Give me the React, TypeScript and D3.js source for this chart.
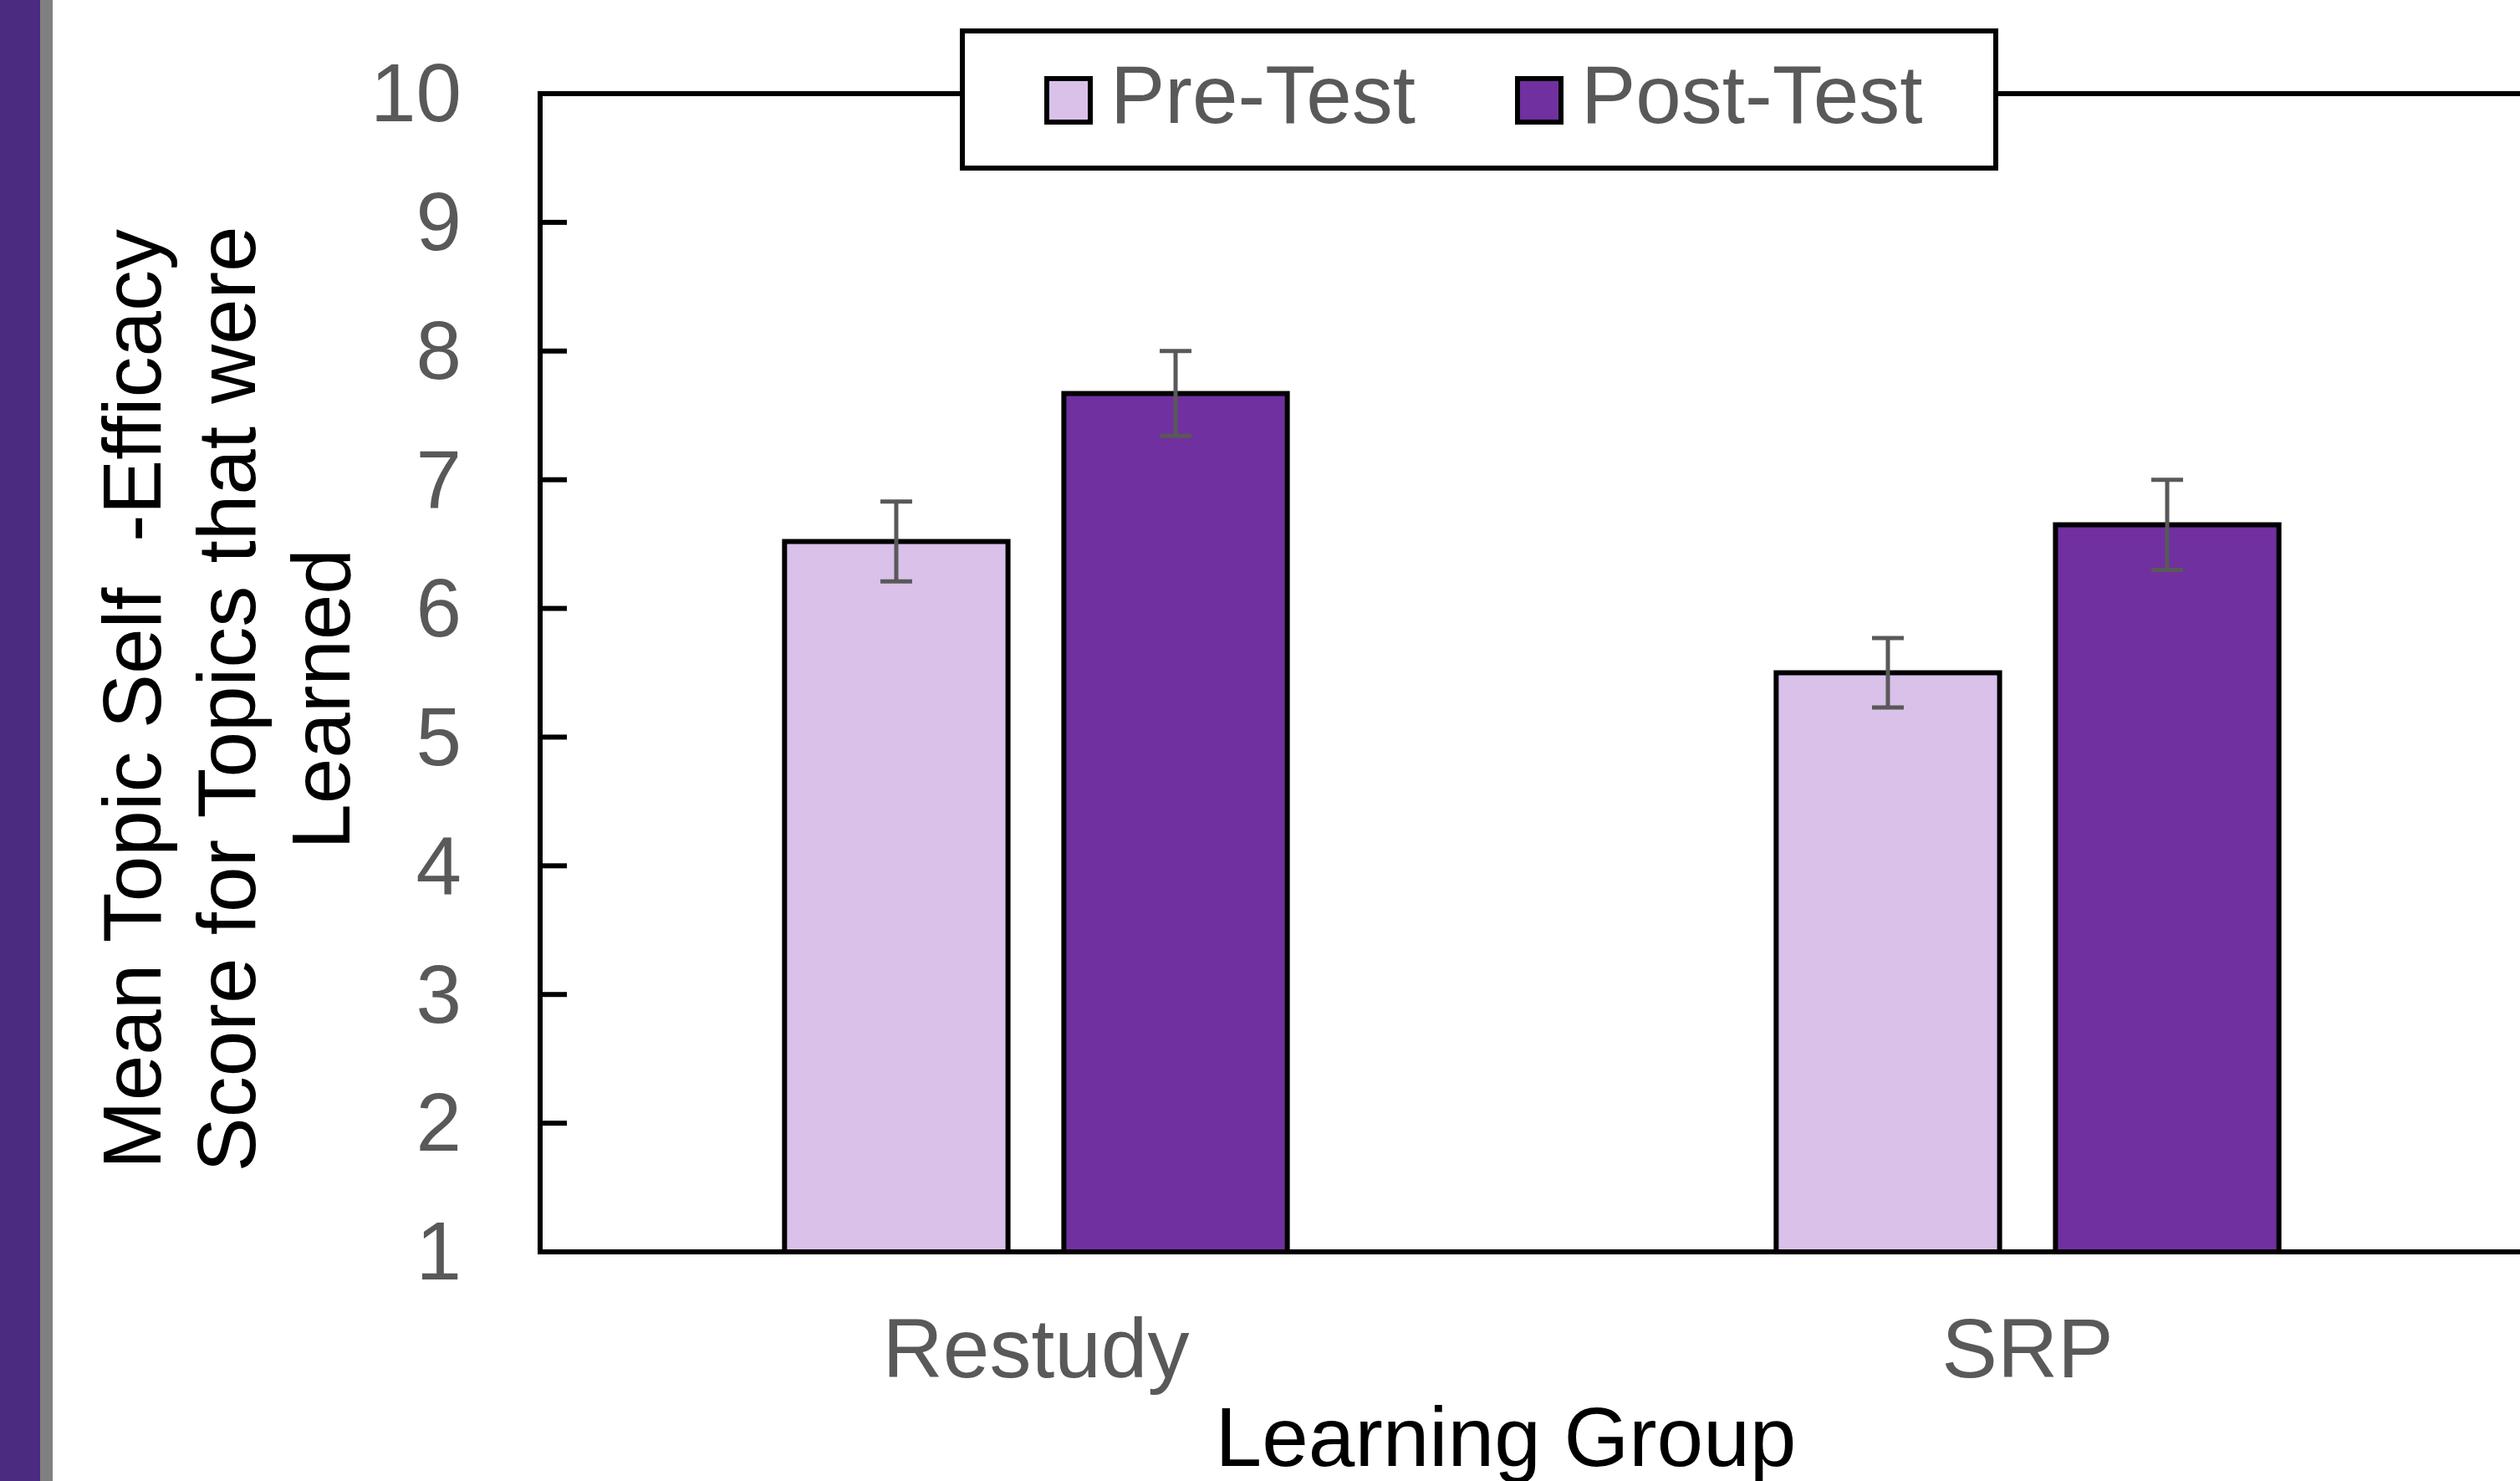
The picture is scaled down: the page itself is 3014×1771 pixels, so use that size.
import React, { useEffect, useRef } from 'react'
import * as d3 from 'd3'

// --- data ---
const groups = ['Restudy', 'SRP']
const seriesNames = ['Pre-Test', 'Post-Test']
const preMeans = [6.52, 5.5]
const postMeans = [7.67, 6.65]
const preErr = [0.31, 0.27]
const postErr = [0.33, 0.35]
const yTicks = [1, 2, 3, 4, 5, 6, 7, 8, 9, 10]
const yTitleLines = ['Mean Topic Self  -Efficacy', 'Score for Topics that were', 'Learned']
const xTitle = 'Learning Group'

const seriesColors = ['#D9C1EA', '#7030A0']
const grayText = '#595959'
const font = '"Liberation Sans", Arial, sans-serif'

export default function App() {
  const svgRef = useRef<SVGSVGElement>(null)

  useEffect(() => {
    if (!svgRef.current) return
    const W = 3014
    const H = 1771
    const svg = d3.select(svgRef.current)
    svg.selectAll('*').remove()

    const plot = { left: 646, right: 3018, top: 112, bottom: 1497 }

    // side stripes
    svg.append('rect').attr('x', 0).attr('y', 0).attr('width', 48).attr('height', H).attr('fill', '#4B2B80')
    svg.append('rect').attr('x', 48).attr('y', 0).attr('width', 15).attr('height', H).attr('fill', '#808080')

    const x0 = d3.scaleBand<string>()
      .domain(groups)
      .range([plot.left, plot.right])
      .paddingInner(0.493)
      .paddingOuter(0.2465)
    const x1 = d3.scaleBand<string>()
      .domain(seriesNames)
      .range([0, x0.bandwidth()])
      .paddingInner(0.2)
      .paddingOuter(0)
    const y = d3.scaleLinear().domain([1, 10]).range([plot.bottom, plot.top])

    // frame
    svg.append('rect')
      .attr('x', plot.left).attr('y', plot.top)
      .attr('width', plot.right - plot.left).attr('height', plot.bottom - plot.top)
      .attr('fill', 'none').attr('stroke', '#000').attr('stroke-width', 6)

    // y ticks (inward) and labels
    const yAxis = svg.append('g')
    yAxis.selectAll('line')
      .data(yTicks)
      .enter()
      .append('line')
      .attr('x1', plot.left).attr('x2', plot.left + 32)
      .attr('y1', d => y(d)).attr('y2', d => y(d))
      .attr('stroke', '#000').attr('stroke-width', 6)
    yAxis.selectAll('text')
      .data(yTicks)
      .enter()
      .append('text')
      .attr('x', 552)
      .attr('y', d => y(d))
      .attr('dy', '0.34em')
      .attr('text-anchor', 'end')
      .attr('fill', grayText)
      .style('font-family', font)
      .style('font-size', '98px')
      .text(d => d)

    // bars
    const rows = groups.map((g, i) => ({
      group: g,
      values: [
        { key: seriesNames[0], mean: preMeans[i], err: preErr[i] },
        { key: seriesNames[1], mean: postMeans[i], err: postErr[i] },
      ],
    }))

    const groupG = svg.append('g')
      .selectAll('g')
      .data(rows)
      .enter()
      .append('g')
      .attr('transform', d => `translate(${x0(d.group)},0)`)

    groupG.selectAll('rect')
      .data(d => d.values)
      .enter()
      .append('rect')
      .attr('x', d => x1(d.key)!)
      .attr('y', d => y(d.mean))
      .attr('width', x1.bandwidth())
      .attr('height', d => y(1) - y(d.mean))
      .attr('fill', (d, i) => seriesColors[i])
      .attr('stroke', '#000')
      .attr('stroke-width', 6)

    // error bars
    const capHalf = 19
    groupG.each(function (d) {
      const g = d3.select(this)
      d.values.forEach(v => {
        const cx = x1(v.key)! + x1.bandwidth() / 2
        const eg = g.append('g').attr('stroke', grayText).attr('stroke-width', 5)
        eg.append('line').attr('x1', cx).attr('x2', cx).attr('y1', y(v.mean + v.err)).attr('y2', y(v.mean - v.err))
        eg.append('line').attr('x1', cx - capHalf).attr('x2', cx + capHalf).attr('y1', y(v.mean + v.err)).attr('y2', y(v.mean + v.err))
        eg.append('line').attr('x1', cx - capHalf).attr('x2', cx + capHalf).attr('y1', y(v.mean - v.err)).attr('y2', y(v.mean - v.err))
      })
    })

    // category labels
    svg.append('g')
      .selectAll('text')
      .data(groups)
      .enter()
      .append('text')
      .attr('x', d => x0(d)! + x0.bandwidth() / 2)
      .attr('y', 1647)
      .attr('text-anchor', 'middle')
      .attr('fill', grayText)
      .style('font-family', font)
      .style('font-size', '100px')
      .text(d => d)

    // x title
    svg.append('text')
      .attr('x', 1801)
      .attr('y', 1753)
      .attr('text-anchor', 'middle')
      .attr('fill', '#000')
      .style('font-family', font)
      .style('font-size', '100px')
      .text(xTitle)

    // y title, three centred lines
    svg.append('g')
      .selectAll('text')
      .data(yTitleLines)
      .enter()
      .append('text')
      .attr('transform', (d, i) => `translate(${192 + i * 113},836) rotate(-90)`)
      .attr('text-anchor', 'middle')
      .attr('fill', '#000')
      .style('font-family', font)
      .style('font-size', '98px')
      .style('white-space', 'pre')
      .text(d => d)

    // legend
    const legend = svg.append('g')
    legend.append('rect')
      .attr('x', 1151).attr('y', 37).attr('width', 1236).attr('height', 164)
      .attr('fill', '#fff').attr('stroke', '#000').attr('stroke-width', 6)
    const items = legend.selectAll('g.item')
      .data(seriesNames)
      .enter()
      .append('g')
      .attr('class', 'item')
      .attr('transform', (d, i) => `translate(${[1252, 1815][i]},0)`)
    items.append('rect')
      .attr('x', 0).attr('y', 94).attr('width', 52).attr('height', 52)
      .attr('fill', (d, i) => seriesColors[i])
      .attr('stroke', '#000').attr('stroke-width', 6)
    items.append('text')
      .attr('x', 76).attr('y', 147)
      .attr('fill', grayText)
      .style('font-family', font)
      .style('font-size', '98px')
      .text(d => d)

    svg.attr('width', W).attr('height', H)
  }, [])

  return (
    <div style={{ position: 'absolute', left: 0, top: 0, width: 3014, height: 1771, background: '#fff', overflow: 'hidden' }}>
      <svg ref={svgRef} width={3014} height={1771} style={{ display: 'block' }} />
    </div>
  )
}
